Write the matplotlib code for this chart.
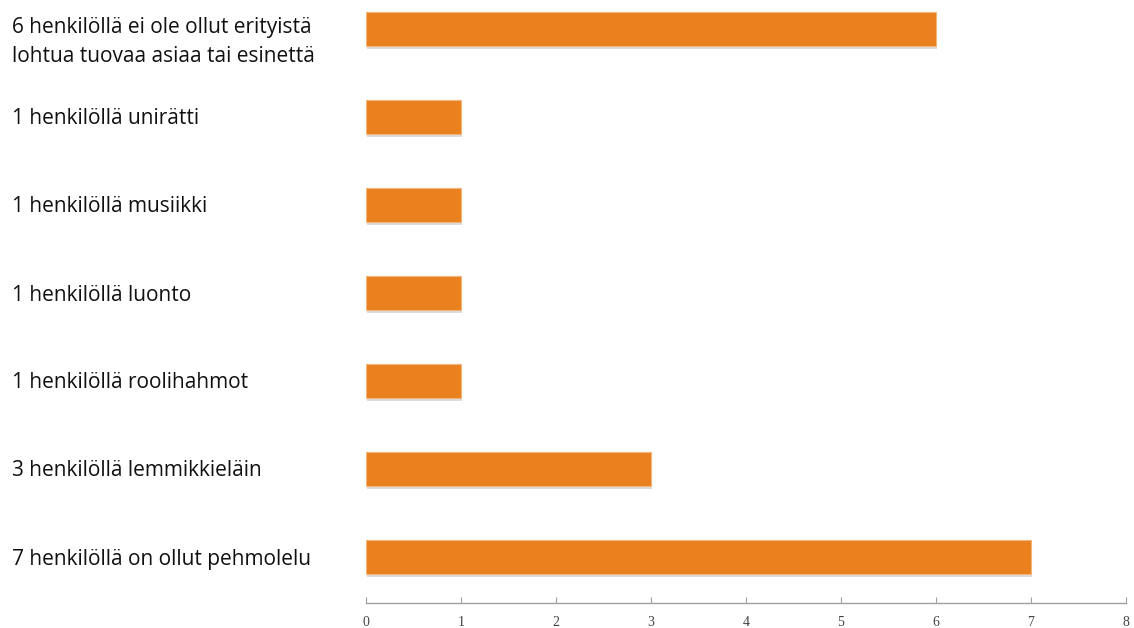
import matplotlib.pyplot as plt
import matplotlib.patheffects as pe

labels = ['6 henkilöllä ei ole ollut erityistä\nlohtua tuovaa asiaa tai esinettä',
          '1 henkilöllä unirätti',
          '1 henkilöllä musiikki',
          '1 henkilöllä luonto',
          '1 henkilöllä roolihahmot',
          '3 henkilöllä lemmikkieläin',
          '7 henkilöllä on ollut pehmolelu']
values = [6, 1, 1, 1, 1, 3, 7]
ticks = [0, 1, 2, 3, 4, 5, 6, 7, 8]

W, H = 1134, 628
fig = plt.figure(figsize=(W / 100, H / 100), dpi=100)
ax = fig.add_axes([366 / W, 25 / H, 760 / W, 1 - 25 / H])

ypos = list(range(len(values)))
bars = ax.barh(ypos, values, height=0.39, color='#EA801E', edgecolor='#F3B57A', linewidth=0.8)
for b in bars:
    b.set_path_effects([pe.SimplePatchShadow(offset=(1, -2), shadow_rgbFace='#b8b8b8', alpha=0.5), pe.Normal()])

ax.set_xlim(0, 8)
ax.set_ylim(len(values) - 1 + 0.52, -0.33)
ax.set_xticks(ticks)
ax.set_xticklabels([str(t) for t in ticks], family='Liberation Serif', fontsize=10, color='#444444')
ax.set_yticks([])
for s in ['top', 'right', 'left']:
    ax.spines[s].set_visible(False)
ax.spines['bottom'].set_color('#a0a0a0')
ax.spines['bottom'].set_linewidth(1)
ax.tick_params(axis='x', direction='in', length=4, color='#a0a0a0', pad=9)

# label positions in pixels from top
for i, lab in enumerate(labels):
    yc = 42 if '\n' in lab else 29 + 88 * i + 2
    fig.text(12 / W, 1 - yc / H, lab, ha='left', va='center',
             family='Open Sans', fontsize=15, color='#111111', linespacing=1.5)

fig.savefig('out.png', dpi=100)
